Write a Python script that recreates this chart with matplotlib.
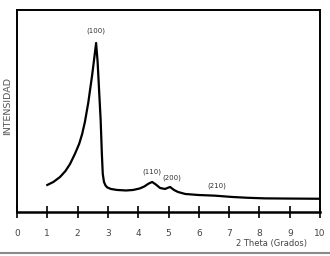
import matplotlib
matplotlib.use("Agg")
import matplotlib.pyplot as plt
from matplotlib.lines import Line2D

two_theta = [1.0, 1.2, 1.42, 1.6, 1.75, 1.91, 2.05, 2.15, 2.24, 2.35, 2.48, 2.55, 2.61,
             2.66, 2.72, 2.76, 2.8, 2.83, 2.87, 2.92, 2.98, 3.1, 3.3, 3.6, 3.83,
             4.05, 4.2, 4.35, 4.46, 4.58, 4.72, 4.88, 5.05, 5.18, 5.31, 5.55,
             5.97, 6.53, 7.1, 7.6, 8.18, 9.0, 10.0]
intensity = [27, 30, 35, 41, 48, 58, 68, 78, 90, 109, 137, 154, 169,
             150, 115, 92, 58, 38, 30, 26.5, 24.5, 23, 22, 21.5, 22,
             23.5, 25.5, 28.5, 30, 27.5, 24, 23, 25, 22, 20, 18,
             17, 16.3, 15, 14.2, 13.6, 13.4, 13.2]

peak_labels = ["(100)", "(110)", "(200)", "(210)"]
peak_x = [2.61, 4.46, 5.1, 6.6]
peak_y = [181, 40, 34, 26]

fig = plt.figure(figsize=(3.3, 2.56), dpi=100)
ax = fig.add_axes([0.0515, 0.172, 0.9185, 0.789])
ax.plot(two_theta, intensity, color="black", lw=1.6)
ax.set_xlim(0, 10)
ax.set_ylim(0, 202)
ax.set_xticks(range(0, 11))
ax.set_xticklabels([str(i) for i in range(0, 11)], fontsize=6.5, color="#444444")
ax.set_yticks([])
ax.tick_params(axis="x", direction="inout", length=8, width=1.2, pad=8)
for s in ["left", "right", "top"]:
    ax.spines[s].set_linewidth(1.4)
ax.spines["bottom"].set_linewidth(1.8)

for lab, px, py in zip(peak_labels, peak_x, peak_y):
    ax.text(px, py, lab, fontsize=5, color="#333333", ha="center", va="center")

fig.text(0.024, 0.586, "INTENSIDAD", rotation=90, fontsize=6.8, color="#555555",
         ha="center", va="center")
fig.text(0.822, 0.047, "2 Theta (Grados)", fontsize=6, color="#444444",
         ha="center", va="center")
fig.add_artist(Line2D([0, 1], [0.012, 0.012], color="#8a8a8a", lw=1.5,
                      transform=fig.transFigure))

fig.savefig("out.png", dpi=100)
